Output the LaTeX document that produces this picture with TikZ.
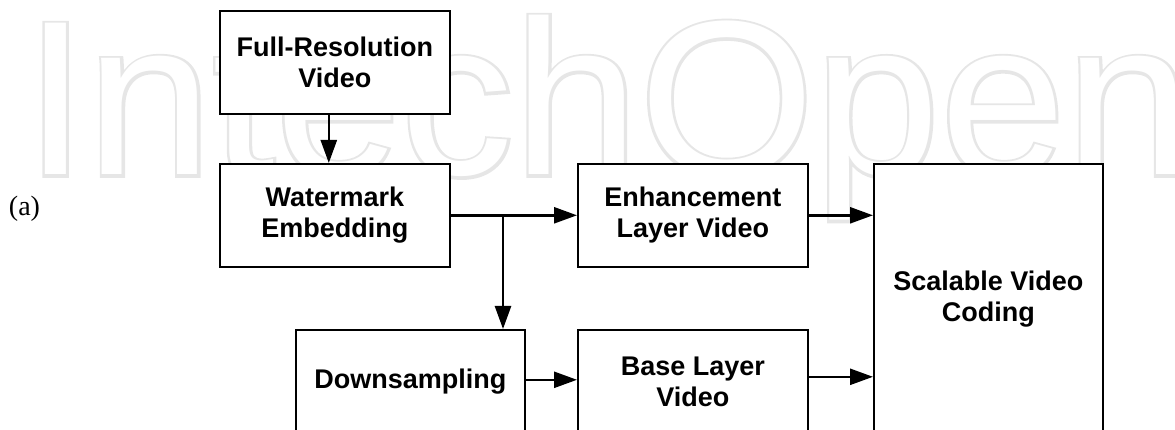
\documentclass[tikz,border=0pt]{standalone}
\usepackage{fontspec}
\setmainfont{Liberation Sans}
\newfontfamily\wmthick[FakeBold=2.5,FakeStretch=1.026]{Liberation Sans}
\newfontfamily\wmthin[FakeStretch=1.026]{Liberation Sans}
\newfontfamily\capfont{Liberation Serif}
\usetikzlibrary{arrows.meta}
\definecolor{wmgray}{RGB}{230,230,230}
\begin{document}
\begin{tikzpicture}[x=1pt,y=-1pt,
  box/.style={draw=black, line width=1.6pt, fill=white, inner sep=0pt, anchor=north west,
              align=center, font=\fontsize{27}{31}\selectfont\bfseries},
  arr/.style={line width=2.5pt, -{Triangle[length=23pt,width=16pt]}},
  wm/.style={anchor=base west, inner sep=0pt}]
\useasboundingbox (0,0) rectangle (1175,430);
% background watermark
\node[wm, text=wmgray, font=\wmthick\fontsize{220}{220}\selectfont] (wmout) at (24,175) {IntechOpen};
\node[wm, text=white, font=\wmthin\fontsize{220}{220}\selectfont] (wmin) at (24,175) {IntechOpen};
% boxes
\node[box, minimum width=230pt, minimum height=103pt] (fr) at (219,10) {Full-Resolution\\Video};
\node[box, minimum width=230pt, minimum height=103pt] (we) at (219,163) {Watermark\\Embedding};
\node[box, minimum width=230pt, minimum height=103pt] (enh) at (577,163) {Enhancement\\Layer Video};
\node[box, minimum width=229pt, minimum height=104pt] (down) at (295,329) {Downsampling};
\node[box, minimum width=230pt, minimum height=104pt] (base) at (577,329) {Base Layer\\Video};
\node[box, minimum width=229pt, minimum height=270pt] (svc) at (873,163) {Scalable Video\\Coding};
% caption
\node[font=\capfont\fontsize{28}{30}\selectfont, anchor=base, inner sep=0pt] (cap) at (24.5,216) {(a)};
% connectors
\draw[arr] ([xshift=-6pt]fr.south) -- ([xshift=-6pt]we.north);
\draw[arr] (we.east) -- (enh.west);
\coordinate (br) at (503,214.5);
\draw[arr] (br) -- (br |- down.north);
\draw[arr] ([yshift=2pt]down.east) -- ([yshift=2pt]base.west);
\draw[arr] (enh.east) -- (enh.east -| svc.west);
\draw[arr] ([yshift=5pt]base.east) -- ([yshift=5pt]base.east -| svc.west);
\end{tikzpicture}
\end{document}
